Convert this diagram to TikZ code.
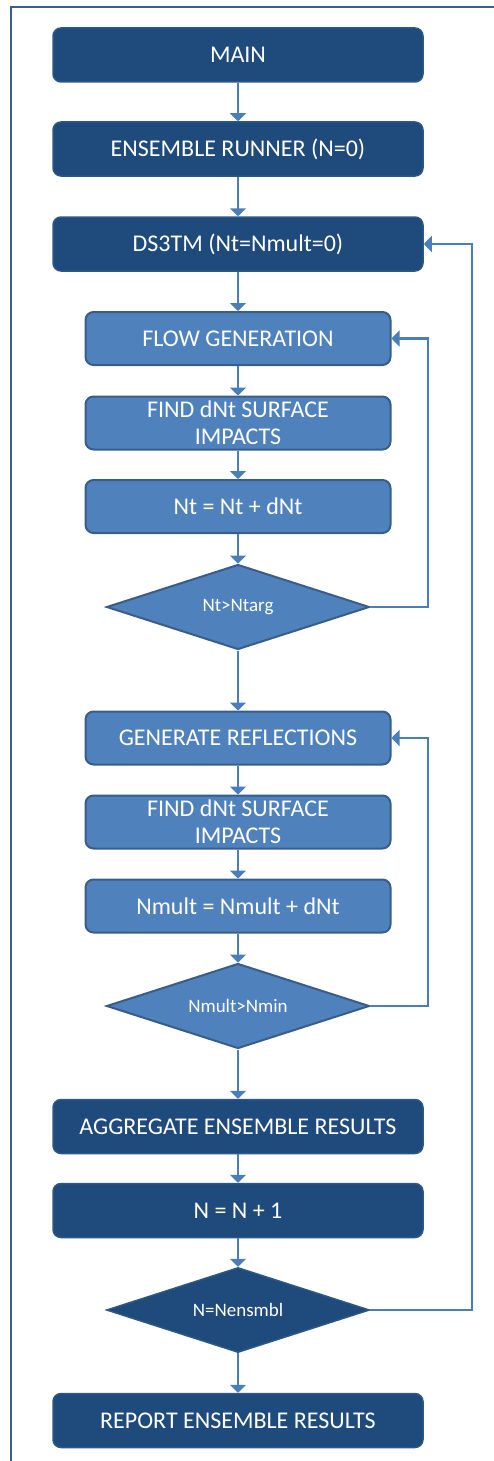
\documentclass[tikz,border=0pt]{standalone}
\usepackage{fontspec}
\setmainfont{Carlito}
\usetikzlibrary{shapes.geometric,arrows.meta}
\definecolor{darkbox}{HTML}{1F4A7C}
\definecolor{darkedge}{HTML}{2C5886}
\definecolor{lightbox}{HTML}{4F81BD}
\definecolor{lightedge}{HTML}{385D8A}
\definecolor{conn}{HTML}{4A7EBB}
\definecolor{frame}{HTML}{3A5F8F}
\begin{document}
\begin{tikzpicture}[x=1pt,y=-1pt,
  darkstep/.style={draw=darkedge,line width=1.5pt,fill=darkbox,rounded corners=8pt,
    minimum width=370pt,minimum height=54pt,text=white,font=\fontsize{24}{27}\selectfont,align=center,inner sep=0pt},
  lightstep/.style={draw=lightedge,line width=2pt,fill=lightbox,rounded corners=8pt,
    minimum width=305pt,minimum height=53pt,text=white,font=\fontsize{24}{27}\selectfont,align=center,inner sep=0pt},
  lightdec/.style={draw=lightedge,line width=2pt,fill=lightbox,diamond,aspect=3.1,
    minimum width=263pt,minimum height=85pt,text=white,font=\fontsize{19}{21}\selectfont,inner sep=0pt},
  darkdec/.style={draw=darkedge,line width=1.5pt,fill=darkbox,diamond,aspect=3.1,
    minimum width=263pt,minimum height=85pt,text=white,font=\fontsize{19}{21}\selectfont,inner sep=0pt},
  arr/.style={draw=conn,line width=2.6pt,-{Triangle[width=16pt,length=8pt]}},
  ln/.style={draw=conn,line width=2.6pt}]
\useasboundingbox (0,0) rectangle (494,1461);
\draw[frame,line width=2.6pt] (11,1470) -- (11,7) -- (500,7);

\node[darkstep] (main) at (238,55) {MAIN};
\node[darkstep] (ens) at (238,149) {ENSEMBLE RUNNER (N=0)};
\node[darkstep] (ds3) at (238,244) {DS3TM (Nt=Nmult=0)};

\node[lightstep] (flow) at (238,338.5) {FLOW GENERATION};
\node[lightstep] (find1) at (238,423) {FIND dNt SURFACE\\IMPACTS};
\node[lightstep] (nt) at (238,506.5) {Nt = Nt + dNt};
\node[lightdec] (d1) at (238,607) {Nt>Ntarg};

\node[lightstep] (gen) at (238,738) {GENERATE REFLECTIONS};
\node[lightstep] (find2) at (238,822) {FIND dNt SURFACE\\IMPACTS};
\node[lightstep] (nm) at (238,906) {Nmult = Nmult + dNt};
\node[lightdec] (d2) at (238,1006) {Nmult>Nmin};

\node[darkstep] (agg) at (238,1126.5) {AGGREGATE ENSEMBLE RESULTS};
\node[darkstep] (n1) at (238,1210.5) {N = N + 1};
\node[darkdec] (d3) at (238,1310) {N=Nensmbl};
\node[darkstep] (rep) at (238,1420.5) {REPORT ENSEMBLE RESULTS};

\draw[arr] (main) -- (ens);
\draw[arr] (ens) -- (ds3);
\draw[arr] (ds3) -- (flow);
\draw[arr] (flow) -- (find1);
\draw[arr] (find1) -- (nt);
\draw[arr] (nt) -- (d1);
\draw[arr] (d1) -- (gen);
\draw[arr] (gen) -- (find2);
\draw[arr] (find2) -- (nm);
\draw[arr] (nm) -- (d2);
\draw[arr] (d2) -- (agg);
\draw[arr] (agg) -- (n1);
\draw[arr] (n1) -- (d3);
\draw[arr] (d3) -- (rep);

\draw[arr] (d1.east) -- (428,607) |- (flow.east);
\draw[arr] (d2.east) -- (428,1006) |- (gen.east);
\draw[arr] (d3.east) -- (472,1310) |- (ds3.east);
\end{tikzpicture}
\end{document}
